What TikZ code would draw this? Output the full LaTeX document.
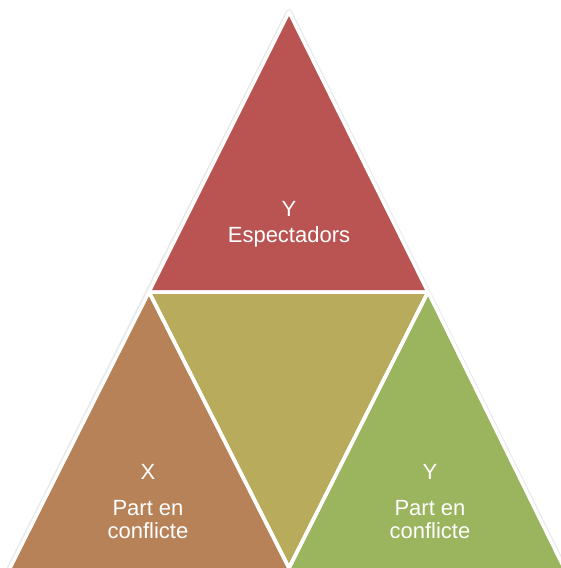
\documentclass[tikz,border=0pt]{standalone}
\usepackage{fontspec}
\setmainfont{Liberation Sans}
\definecolor{cred}{RGB}{185,84,82}
\definecolor{colive}{RGB}{184,172,92}
\definecolor{cbrown}{RGB}{184,130,88}
\definecolor{cgreen}{RGB}{155,180,94}
\definecolor{cglow}{RGB}{232,232,232}
\tikzset{
  piece/.style={draw=white,line width=3.5pt,line join=round},
  lbl/.style={text=white,font=\fontsize{22}{26}\selectfont,inner sep=0pt,anchor=base}
}
\begin{document}
\begin{tikzpicture}[x=1pt,y=-1pt]
\useasboundingbox (0,0) rectangle (561,568);
\coordinate (A) at (289,12);
\coordinate (L) at (149,292);
\coordinate (R) at (428,292);
\coordinate (BM) at (289,568);
% bottom points lying below the page edge, on the lines of the edges
\coordinate (BL) at (5,578);
\coordinate (BLm) at (294,578);
\coordinate (BRm) at (284,578);
\coordinate (BR) at (569,578);
% outer glow
\draw[cglow,line width=6pt,line join=round] (BL) -- (A) -- (BR);
% pieces
\filldraw[piece,fill=cred] (A) -- (L) -- (R) -- cycle;
\filldraw[piece,fill=colive] (L) -- (R) -- (BM) -- cycle;
\filldraw[piece,fill=cbrown] (L) -- (BL) -- (BLm) -- cycle;
\filldraw[piece,fill=cgreen] (R) -- (BRm) -- (BR) -- cycle;
% keep the olive tip visible between the two lower pieces
\draw[white,line width=3.5pt,line cap=round] (L) -- (BM) -- (R);
% labels
\node[lbl] (t1) at (289,216) {Y};
\node[lbl] (t2) at (289,242) {Espectadors};
\node[lbl] (l1) at (148,479) {X};
\node[lbl] (l2) at (148,515) {Part en};
\node[lbl] (l3) at (148,538) {conflicte};
\node[lbl] (r1) at (430,479) {Y};
\node[lbl] (r2) at (430,515) {Part en};
\node[lbl] (r3) at (430,538) {conflicte};
\end{tikzpicture}
\end{document}
